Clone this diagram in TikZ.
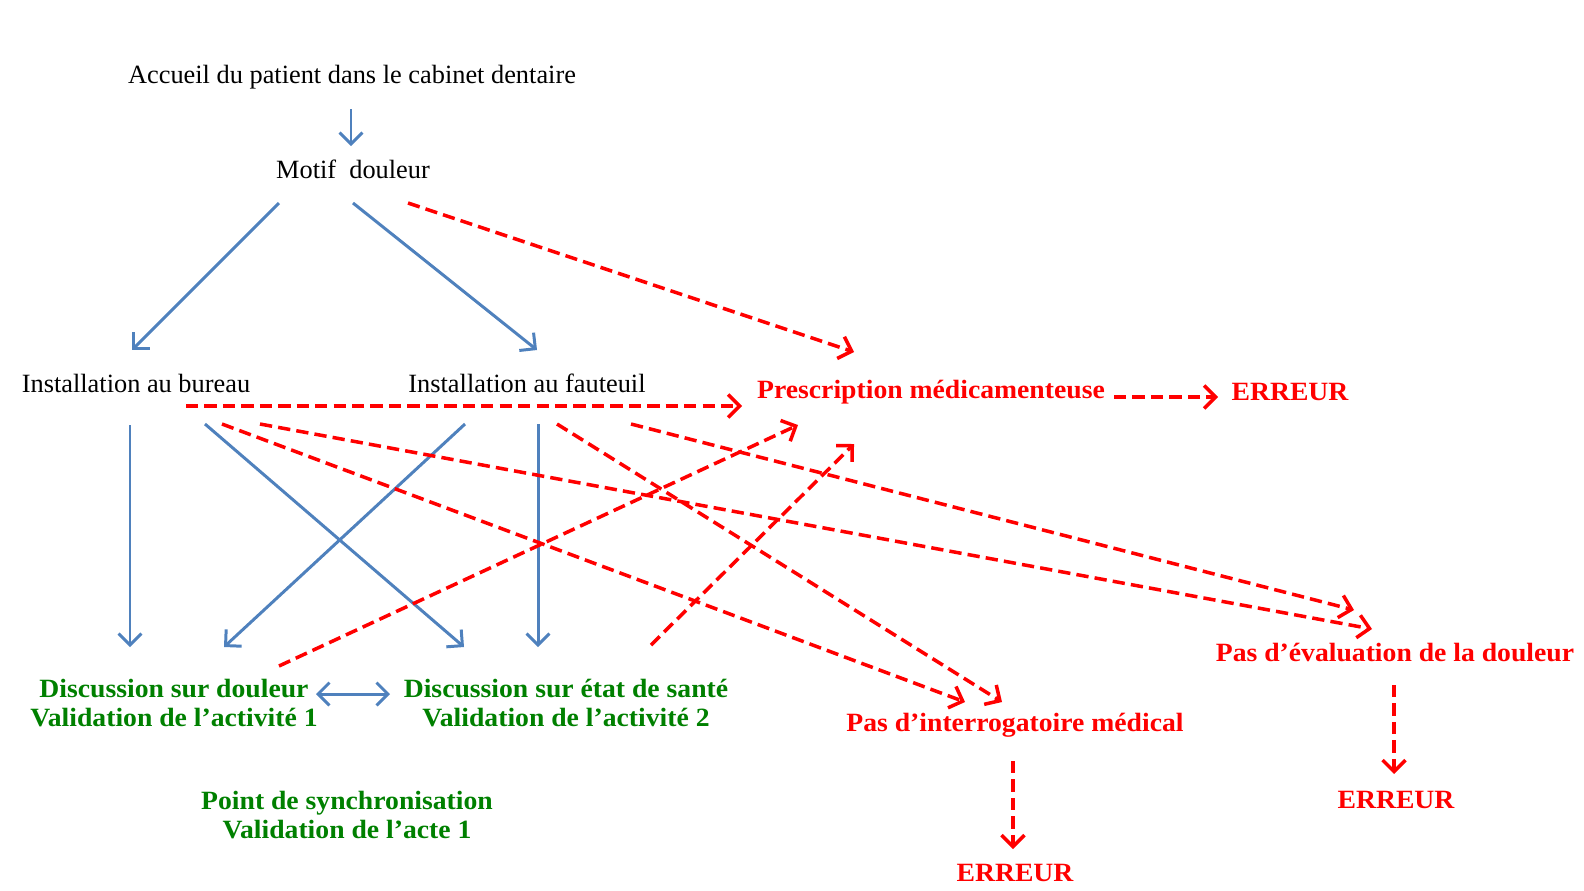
\documentclass[tikz,border=0pt]{standalone}
\usepackage{fontspec}
\setmainfont{Liberation Serif}[BoldFeatures={FakeStretch=1.05}]
\usetikzlibrary{arrows.meta, positioning, calc}
\definecolor{flowblue}{RGB}{79,129,189}
\definecolor{errred}{RGB}{255,0,0}
\definecolor{okgreen}{RGB}{0,128,0}

\begin{document}
\begin{tikzpicture}[
    x=0.02cm, y=-0.02cm,
    >={Straight Barb[length=6.5pt, width=13pt]},
    stepnode/.style={inner sep=1pt, align=center, font=\fontsize{15}{16.5}\selectfont},
    oknode/.style={stepnode, text=okgreen, font=\fontsize{15}{16.5}\selectfont\bfseries},
    errnode/.style={stepnode, text=errred, font=\fontsize{15}{16.5}\selectfont\bfseries},
    flow_ok/.style={->, line width=1.7pt, flowblue},
    flow_both/.style={<->, line width=1.7pt, flowblue},
    flow_err/.style={->, line width=2pt, errred, dash pattern=on 7pt off 3.5pt}
]
    \useasboundingbox (0,0) rectangle (1584,890);

    % parcours normal
    \node[stepnode] (accueil) at (352,77) {Accueil du patient dans le cabinet dentaire};
    \node[stepnode] (motif) at (353,169) {Motif~ douleur};
    \node[stepnode] (bureau) at (136,383) {Installation au bureau};
    \node[stepnode] (fauteuil) at (527,383) {Installation au fauteuil};

    \node[oknode] (disc_doul) at (174,703) {Discussion sur douleur\\Validation de l’activité 1};
    \node[oknode] (disc_sante) at (566,703) {Discussion sur état de santé\\Validation de l’activité 2};
    \node[oknode] (sync) at (347,815) {Point de synchronisation\\Validation de l’acte 1};

    % erreurs
    \node[errnode] (prescr) at (931,392) {Prescription médicamenteuse};
    \node[errnode] (err_prescr) at (1290,392) {ERREUR};
    \node[errnode] (interrog) at (1015,725) {Pas d’interrogatoire médical};
    \node[errnode] (err_interrog) at (1015,873) {ERREUR};
    \node[errnode] (eval_doul) at (1395,652) {Pas d’évaluation de la douleur};
    \node[errnode] (err_eval) at (1396,800) {ERREUR};

    \draw[flow_ok] ($(accueil)+(-1,32)$) -- ($(motif)+(-2,-23)$);
    \draw[flow_ok] ($(motif)+(-74,34)$) -- ($(bureau)+(-4,-33)$);
    \draw[flow_ok] ($(motif)+(0,34)$) -- ($(fauteuil)+(10,-33)$);
    \draw[flow_ok] ($(bureau)+(-6,42)$) -- ($(disc_doul)+(-44,-56)$);
    \draw[flow_ok] ($(bureau)+(69,41)$) -- ($(disc_sante)+(-102,-56)$);
    \draw[flow_ok] ($(fauteuil)+(-62,41)$) -- ($(disc_doul)+(50,-56)$);
    \draw[flow_ok] ($(fauteuil)+(11,41)$) -- ($(disc_sante)+(-28,-56)$);
    \draw[flow_both] ($(disc_doul)+(142,-9)$) -- ($(disc_sante)+(-176,-9)$);

    \draw[flow_err] ($(motif)+(55,34)$) -- ($(prescr)+(-77,-40)$);
    \draw[flow_err] ($(bureau)+(50,23)$) -- ($(prescr)+(-189,14)$);
    \draw[flow_err] ($(prescr)+(183,5)$) -- ($(err_prescr)+(-72,5)$);
    \draw[flow_err] ($(disc_doul)+(105,-37)$) -- ($(prescr)+(-133,33)$);
    \draw[flow_err] ($(disc_sante)+(85,-58)$) -- ($(prescr)+(-77,52)$);
    \draw[flow_err] ($(bureau)+(86,41)$) -- ($(interrog)+(-50,-23)$);
    \draw[flow_err] ($(bureau)+(124,41)$) -- ($(eval_doul)+(-23,-23)$);
    \draw[flow_err] ($(fauteuil)+(30,41)$) -- ($(interrog)+(-13,-23)$);
    \draw[flow_err] ($(fauteuil)+(104,41)$) -- ($(eval_doul)+(-41,-42)$);
    \draw[flow_err] ($(interrog)+(-2,36)$) -- ($(err_interrog)+(-2,-24)$);
    \draw[flow_err] ($(eval_doul)+(-1,33)$) -- ($(err_eval)+(-2,-26)$);
\end{tikzpicture}
\end{document}
